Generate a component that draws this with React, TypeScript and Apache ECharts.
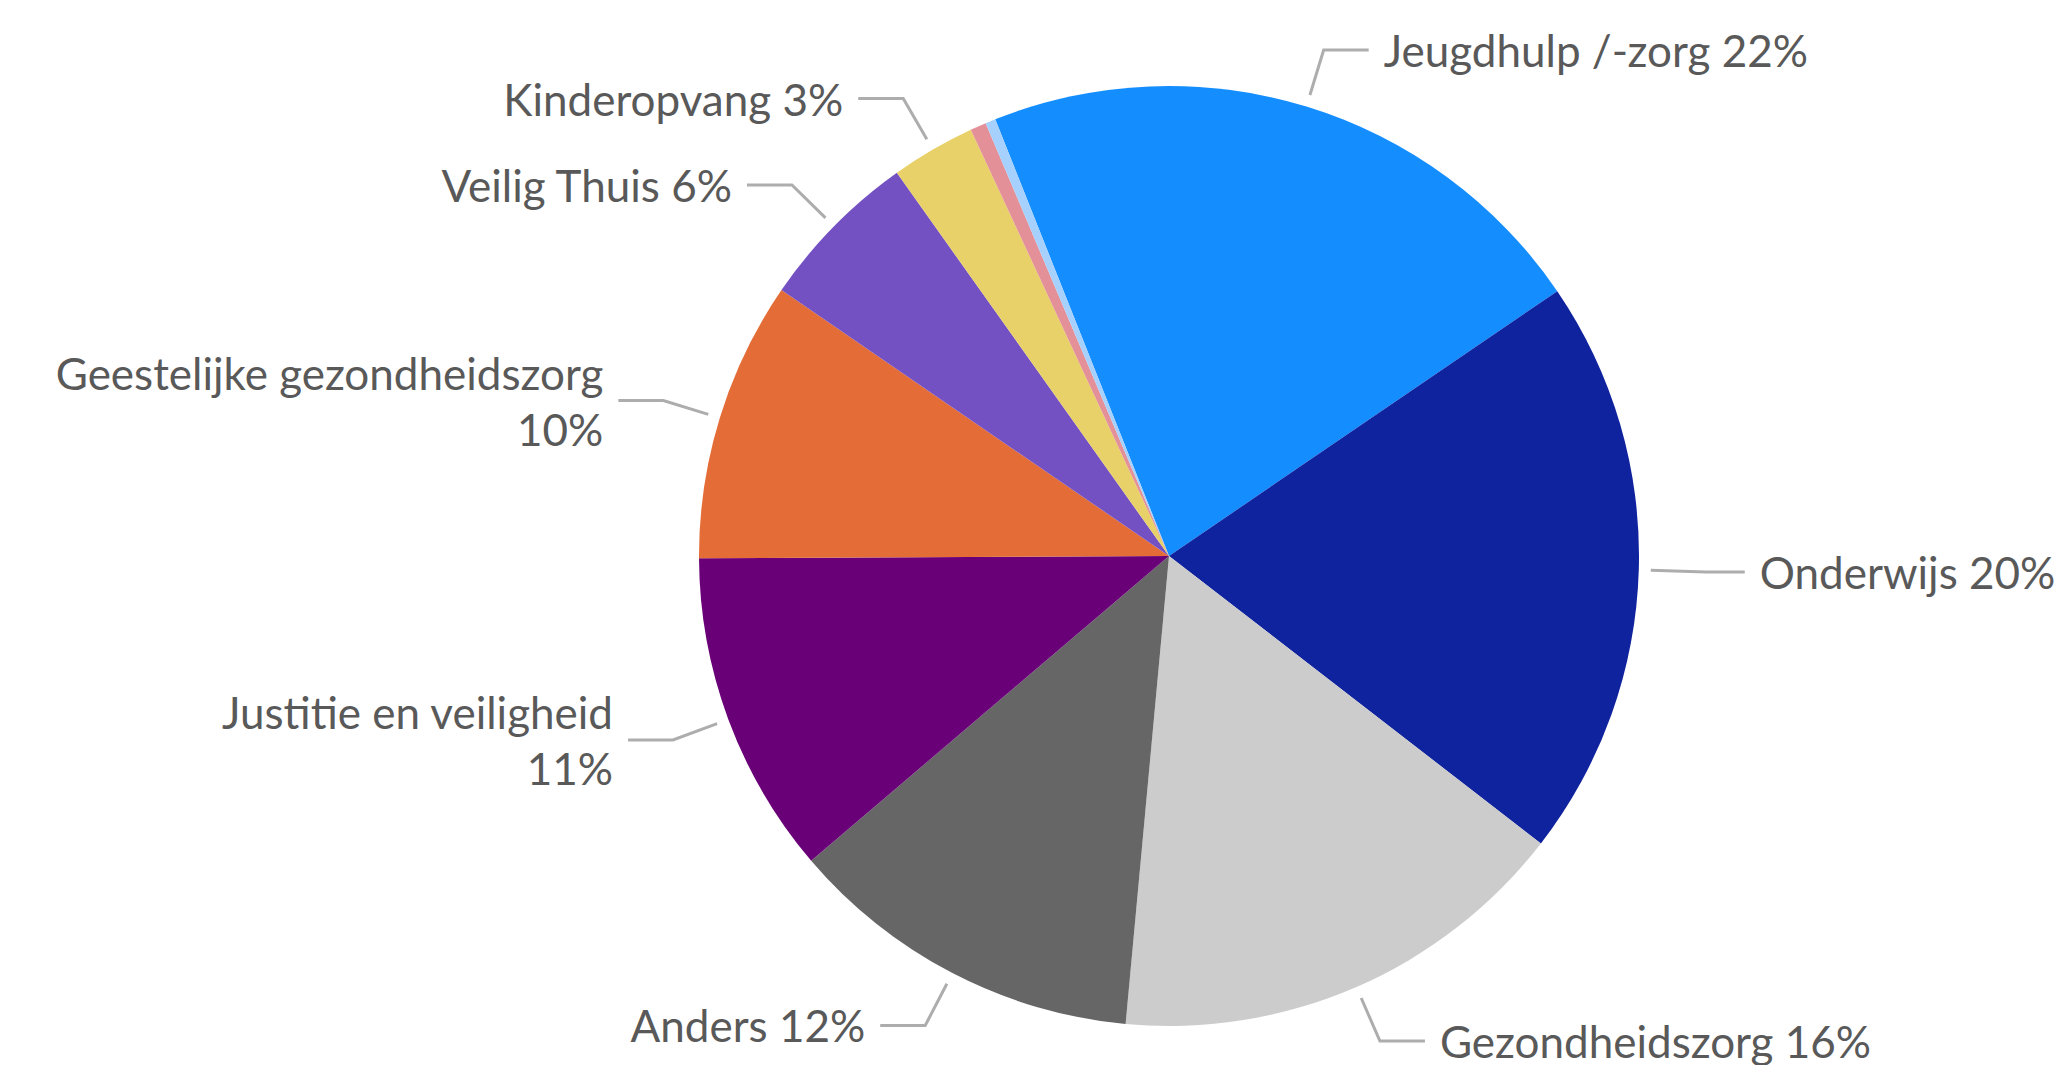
import React, { useEffect, useRef } from "react";
import * as echarts from "echarts";

const categories = [
  "Jeugdhulp /-zorg",
  "Onderwijs",
  "Gezondheidszorg",
  "Anders",
  "Justitie en veiligheid",
  "Geestelijke gezondheidszorg",
  "Veilig Thuis",
  "Kinderopvang",
  "Overig",
  "Onbekend",
];
const values = [21.5, 20.0, 16.0, 12.3, 11.15, 9.65, 5.6, 2.9, 0.55, 0.35];
const sliceColors = [
  "#148EFF",
  "#10239E",
  "#CCCCCC",
  "#666666",
  "#6A0078",
  "#E36C37",
  "#7451C2",
  "#E8D168",
  "#E39098",
  "#A6D1FF",
];
const labelled = [true, true, true, true, true, true, true, true, false, false];
const wrappedNames = ["Justitie en veiligheid", "Geestelijke gezondheidszorg"];

export default function App() {
  const ref = useRef<HTMLDivElement>(null);
  useEffect(() => {
    if (!ref.current) return;
    const chart = echarts.init(ref.current, undefined, { renderer: "svg" });
    const data = categories.map((name, i) => {
      const item: any = {
        name,
        value: values[i],
        itemStyle: { color: sliceColors[i] },
        label: { show: labelled[i] },
        labelLine: { show: labelled[i] },
      };
      if (name === "Onderwijs") {
        item.labelLine = { show: true, length: 67, length2: 39 };
      }
      return item;
    });
    chart.setOption({
      animation: false,
      backgroundColor: "#ffffff",
      series: [
        {
          type: "pie",
          left: 0,
          top: 0,
          width: 2400,
          height: 1300,
          center: [1169, 556],
          radius: [0, 470],
          startAngle: 111.7,
          clockwise: true,
          avoidLabelOverlap: false,
          emphasis: { disabled: true },
          itemStyle: { borderWidth: 0 },
          label: {
            show: true,
            fontFamily: "Lato",
            fontSize: 44,
            lineHeight: 56,
            color: "#595959",
            distanceToLabelLine: 15,
            formatter: (p: any) =>
              p.name +
              (wrappedNames.includes(p.name) ? "\n" : " ") +
              Math.round(p.percent) +
              "%",
          },
          labelLine: {
            show: true,
            length: 59,
            length2: 45,
            smooth: false,
            lineStyle: { color: "#ADADAD", width: 3 },
          },
          labelLayout: (params: any) => {
            const pts = params.labelLinePoints;
            if (!pts || pts.length < 3) return {};
            const p0 = pts[0];
            const p1 = pts[1];
            const dx = p1[0] - p0[0];
            const dy = p1[1] - p0[1];
            const len = Math.hypot(dx, dy) || 1;
            const gap = 12;
            return {
              labelLinePoints: [
                [p0[0] + (dx / len) * gap, p0[1] + (dy / len) * gap],
                [p1[0], p1[1]],
                [pts[2][0], pts[2][1]],
              ],
            };
          },
          data,
        },
      ],
    });
    return () => chart.dispose();
  }, []);
  return (
    <div
      ref={ref}
      style={{
        position: "fixed",
        left: 0,
        top: 0,
        width: 2059,
        height: 1065,
        background: "#ffffff",
      }}
    />
  );
}
